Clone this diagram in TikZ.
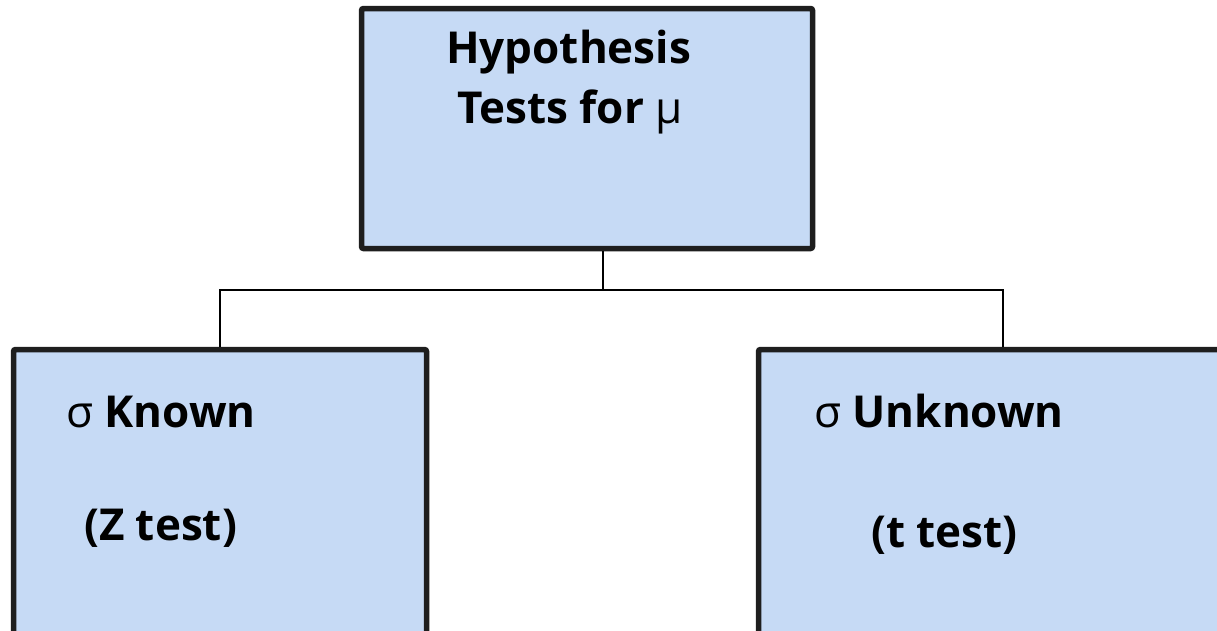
\documentclass[tikz,border=0pt]{standalone}
\usepackage{fontspec}
\setmainfont{Open Sans}
\usepackage{tikz}

\definecolor{boxblue}{RGB}{198,218,245}
\definecolor{boxedge}{RGB}{30,30,30}

\begin{document}
\begin{tikzpicture}[
    x=1pt, y=-1pt,
    every node/.style={font=\fontsize{44}{52}\selectfont\bfseries},
    testbox/.style={draw=boxedge, fill=boxblue, line width=5.5pt,
        rounded corners=2pt, inner sep=0pt},
    boxtext/.style={anchor=base west, inner sep=0pt},
    link/.style={line width=2pt, black}
]

% Page size
\useasboundingbox (0,0) rectangle (1217,630);
\clip (0,0) rectangle (1217,630);

% === Boxes ===
\node[testbox, minimum width=451pt, minimum height=240pt] (top) at (587,128.5) {};
\node[testbox, minimum width=413pt, minimum height=330pt] (known) at (220,514.5) {};
\node[testbox, minimum width=489pt, minimum height=330pt] (unknown) at (1003,514.5) {};

% === Connectors ===
\coordinate (bus) at (603,290);
\draw[link] (top.south -| bus) -- (bus);
\draw[link] (known.north) |- (bus) -| (unknown.north);

% === Labels ===
\node[boxtext] (hyp) at (446,63) {Hypothesis};
\node[boxtext] (tests) at (457,123) {Tests for {\mdseries μ}};
\node[boxtext] (sknown) at (66,427) {{\mdseries σ} Known};
\node[boxtext] (ztest) at (84,540) {(Z test)};
\node[boxtext] (sunknown) at (814,427) {{\mdseries σ} Unknown};
\node[boxtext] (ttest) at (871,547) {(t test)};

\end{tikzpicture}
\end{document}
